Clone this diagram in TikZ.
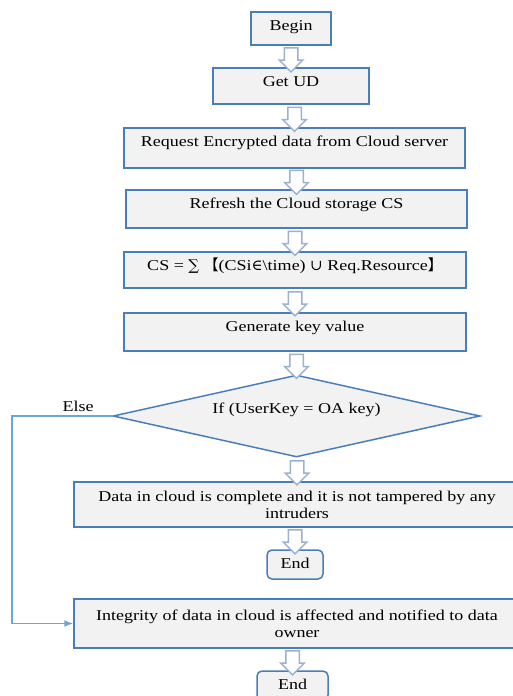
\documentclass[tikz,border=0pt]{standalone}
\usepackage{fontspec}
\setmainfont[FakeStretch=1.2]{Liberation Serif}
\newfontfamily\symfont{DejaVu Serif}
\newfontfamily\cjkfont{Noto Sans CJK SC}
\usetikzlibrary{shapes.geometric,shapes.arrows,arrows.meta,calc}
\definecolor{boxline}{RGB}{74,126,187}
\definecolor{boxfill}{RGB}{242,242,242}
\definecolor{arrowline}{RGB}{155,177,205}
\definecolor{elseline}{RGB}{110,165,215}
\begin{document}
\begin{tikzpicture}[
    x=1pt, y=-1pt, % pixel grid, y downwards
    every node/.style={font=\fontsize{15}{17}\selectfont},
    stepbox/.style={
        draw=boxline, fill=boxfill, line width=1.5pt,
        inner sep=0pt, text height=18.5pt, align=center
    },
    textbox/.style={
        draw=boxline, fill=boxfill, line width=1.5pt,
        inner sep=0pt, align=center
    },
    endbox/.style={stepbox, rounded corners=5pt},
    decision/.style={
        diamond, draw=boxline, fill=boxfill, line width=1.5pt,
        inner sep=0pt, aspect=4.5, text height=11pt, text depth=17pt
    },
    hollow/.style={
        single arrow, draw=arrowline, fill=white, line width=1.5pt,
        rotate=-90, minimum height=24pt, minimum width=22pt,
        text height=6pt, text depth=6pt, text width=0pt,
        single arrow head extend=5pt, inner sep=0pt
    }
]
  \useasboundingbox (0,0) rectangle (512,696);

  % main column
  \node[stepbox, minimum width=80pt, text depth=14.5pt] (begin) at (291,28.5) {Begin};
  \node[stepbox, minimum width=156pt, text depth=17.5pt] (getud) at (291,86) {Get UD};
  \node[stepbox, minimum width=341pt, text depth=21.5pt] (request) at (294.5,148)
    {Request Encrypted data from Cloud server};
  \node[stepbox, minimum width=341pt, text depth=19.5pt] (refresh) at (296.5,209)
    {Refresh the Cloud storage CS};
  \node[stepbox, minimum width=342pt, text depth=17.5pt] (cs) at (295,270)
    {CS = {\symfont∑} {\cjkfont【}(CSi{\symfont∈}\textbackslash time) {\symfont∪} Req.Resource{\cjkfont】}};
  \node[stepbox, minimum width=342pt, text depth=19.5pt] (genkey) at (295,332)
    {Generate key value};
  \node[decision, minimum width=367pt, minimum height=82pt] (decide) at (296.5,416)
    {If (UserKey = OA key)};
  \node[textbox, minimum width=446pt, minimum height=45pt] (complete) at (297,504.5)
    {Data in cloud is complete and it is not tampered by any\\intruders};
  \node[endbox, minimum width=56pt, text depth=10.5pt] (end1) at (295,564.5) {End};
  \node[textbox, minimum width=446pt, minimum height=49pt] (affected) at (297,623.5)
    {Integrity of data in cloud is affected and notified to data\\owner};
  \node[endbox, minimum width=71pt, text depth=10.5pt] (end2) at (292.5,685.5) {End};

  % hollow block arrows
  \foreach \u/\l [count=\i] in {begin/getud, getud/request, request/refresh,
      refresh/cs, cs/genkey, genkey/decide, decide/complete, complete/end1,
      affected/end2}
    \node[hollow] (arr\i) at ($(\u.south -| \l.north)!0.5!(\l.north)$) {};

  % else branch
  \coordinate (elseleft) at (12,416);
  \draw[elseline, line width=1.5pt, -{Latex[length=9pt,width=7pt]}]
    (decide.west) -- (elseleft) |- (affected.west);
  \node (elselabel) at (78,406) {Else};
\end{tikzpicture}
\end{document}
